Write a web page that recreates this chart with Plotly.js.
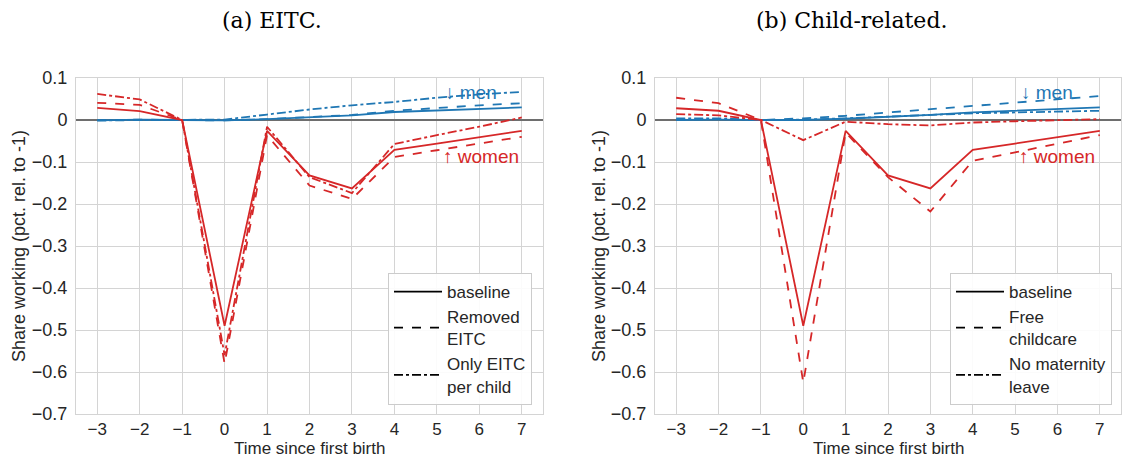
<!DOCTYPE html>
<html>
<head>
<meta charset="utf-8">
<script src="https://cdn.plot.ly/plotly-3.0.1.min.js"></script>
<style>html,body{margin:0;padding:0;background:#fff;}#chart{width:1123px;height:459px;}</style>
</head>
<body>
<div id="chart"></div>
<script>
const years = [-3, -2, -1, 0, 1, 2, 3, 4, 5, 6, 7];

// Panel (a) EITC
const eitcWomenBaseline = [0.029, 0.021, 0, -0.49, -0.026, -0.132, -0.163, -0.071, -0.056, -0.041, -0.026];
const eitcWomenRemoved  = [0.041, 0.036, 0, -0.58, -0.036, -0.156, -0.188, -0.088, -0.072, -0.056, -0.040];
const eitcWomenOnly     = [0.062, 0.049, 0, -0.56, -0.016, -0.136, -0.174, -0.057, -0.036, -0.016, 0.006];
const eitcMenBaseline   = [-0.001, 0.001, 0, -0.001, 0.002, 0.006, 0.011, 0.019, 0.023, 0.027, 0.030];
const eitcMenRemoved    = [-0.001, 0.001, 0, -0.001, 0.002, 0.007, 0.012, 0.022, 0.029, 0.035, 0.040];
const eitcMenOnly       = [-0.001, 0.000, 0, 0.001, 0.013, 0.025, 0.035, 0.043, 0.053, 0.061, 0.067];

// Panel (b) Child-related
const childWomenBaseline  = [0.028, 0.022, 0, -0.49, -0.026, -0.132, -0.163, -0.071, -0.056, -0.041, -0.026];
const childWomenFree      = [0.053, 0.040, 0, -0.625, -0.030, -0.136, -0.218, -0.097, -0.077, -0.057, -0.036];
const childWomenNoLeave   = [0.014, 0.011, 0, -0.048, -0.004, -0.010, -0.013, -0.006, -0.003, -0.001, 0.002];
const childMenBaseline    = [0.000, 0.001, 0, 0.000, 0.003, 0.007, 0.012, 0.018, 0.022, 0.026, 0.030];
const childMenFree        = [0.001, 0.002, 0, 0.004, 0.010, 0.018, 0.026, 0.034, 0.042, 0.050, 0.057];
const childMenNoLeave     = [0.004, 0.004, 0, 0.001, 0.004, 0.008, 0.011, 0.016, 0.018, 0.020, 0.022];

const legendA = ["baseline", "Removed<br>EITC", "Only EITC<br>per child"];
const legendB = ["baseline", "Free<br>childcare", "No maternity<br>leave"];
const xTickLabels = ["−3", "−2", "−1", "0", "1", "2", "3", "4", "5", "6", "7"];

const RED = "#d62728", BLUE = "#1f77b4";
const dashes = ["solid", "dash", "dashdot"];

function line(y, color, dash, xa, ya) {
  return {x: years, y: y, mode: "lines", xaxis: xa, yaxis: ya, showlegend: false,
          line: {color: color, width: 1.8, dash: dash}, hoverinfo: "skip"};
}
function legendTrace(name, dash, xa, ya, lg) {
  return {x: [null], y: [null], mode: "lines", name: name, xaxis: xa, yaxis: ya,
          legend: lg, showlegend: true, line: {color: "#000", width: 1.8, dash: dash}};
}

const traces = [];
traces.push({x: [-3.5, 7.5], y: [0, 0], mode: "lines", xaxis: "x", yaxis: "y", showlegend: false,
             line: {color: "#6e6e6e", width: 1.8}, hoverinfo: "skip"});
traces.push({x: [-3.5, 7.5], y: [0, 0], mode: "lines", xaxis: "x2", yaxis: "y2", showlegend: false,
             line: {color: "#6e6e6e", width: 1.8}, hoverinfo: "skip"});

[eitcMenBaseline, eitcMenRemoved, eitcMenOnly].forEach((s, i) => traces.push(line(s, BLUE, dashes[i], "x", "y")));
[eitcWomenBaseline, eitcWomenRemoved, eitcWomenOnly].forEach((s, i) => traces.push(line(s, RED, dashes[i], "x", "y")));
[childMenBaseline, childMenFree, childMenNoLeave].forEach((s, i) => traces.push(line(s, BLUE, dashes[i], "x2", "y2")));
[childWomenBaseline, childWomenFree, childWomenNoLeave].forEach((s, i) => traces.push(line(s, RED, dashes[i], "x2", "y2")));

legendA.forEach((n, i) => traces.push(legendTrace(n, dashes[i], "x", "y", "legend")));
legendB.forEach((n, i) => traces.push(legendTrace(n, dashes[i], "x2", "y2", "legend2")));

const FONT = "Liberation Sans, Arial, sans-serif";
const GRID = "#d4d4d4";
const TXT = "#262626";
function xax(domain, anchor) {
  return {domain: domain, anchor: anchor, range: [-3.5, 7.5], tickmode: "array", tickvals: years,
          ticktext: xTickLabels, showgrid: true, gridcolor: GRID, gridwidth: 1, zeroline: false,
          showline: true, linecolor: GRID, mirror: true, ticks: "", ticklabelstandoff: 0,
          tickfont: {size: 17, color: TXT, family: FONT}};
}
function yax(anchor) {
  return {domain: [45/459, 381/459], anchor: anchor, range: [-0.7, 0.1], dtick: 0.1, tick0: 0,
          showgrid: true, gridcolor: GRID, gridwidth: 1, zeroline: false,
          showline: true, linecolor: GRID, mirror: true, ticks: "", ticklabelstandoff: 4,
          tickfont: {size: 18, color: TXT, family: FONT}};
}

const legendCommon = {yanchor: "bottom", xanchor: "right", bgcolor: "rgba(255,255,255,0.9)",
  bordercolor: "#cccccc", borderwidth: 1, font: {size: 17, color: TXT, family: FONT},
  tracegroupgap: 2, itemwidth: 48};

function ann(text, x, y, extra) {
  return Object.assign({text: text, xref: "paper", yref: "paper", x: x / 1123, y: 1 - y / 459,
    xanchor: "center", yanchor: "middle", showarrow: false,
    font: {size: 17, color: TXT, family: FONT}}, extra || {});
}
const SERIF = {family: "DejaVu Serif, Liberation Serif, serif", size: 22, color: "#000"};

const layout = {
  width: 1123, height: 459, margin: {l: 0, r: 0, t: 0, b: 0},
  paper_bgcolor: "#fff", plot_bgcolor: "#fff",
  font: {family: FONT, color: TXT},
  xaxis: xax([76/1123, 543/1123], "y"),
  yaxis: yax("x"),
  xaxis2: xax([655/1123, 1121/1123], "y2"),
  yaxis2: yax("x2"),
  legend: Object.assign({x: 532/1123, y: 54/459}, legendCommon),
  legend2: Object.assign({x: 1112/1123, y: 54/459}, legendCommon),
  annotations: [
    ann("(a) EITC.", 272, 21, {font: SERIF}),
    ann("(b) Child-related.", 851, 21, {font: SERIF}),
    ann("Time since first birth", 309, 448),
    ann("Time since first birth", 888, 448),
    ann("Share working (pct. rel. to -1)", 19, 246, {textangle: -90, font: {size: 18, color: TXT, family: FONT}}),
    ann("Share working (pct. rel. to -1)", 599, 246, {textangle: -90, font: {size: 18, color: TXT, family: FONT}}),
    {text: "↓ men", xref: "x", yref: "y", x: 5.8, y: 0.066, showarrow: false, font: {size: 19, color: BLUE, family: FONT}},
    {text: "↑ women", xref: "x", yref: "y", x: 6.03, y: -0.086, showarrow: false, font: {size: 19, color: RED, family: FONT}},
    {text: "↓ men", xref: "x2", yref: "y2", x: 5.75, y: 0.066, showarrow: false, font: {size: 19, color: BLUE, family: FONT}},
    {text: "↑ women", xref: "x2", yref: "y2", x: 6.0, y: -0.086, showarrow: false, font: {size: 19, color: RED, family: FONT}}
  ]
};

Plotly.newPlot("chart", traces, layout, {staticPlot: true, displayModeBar: false});
</script>
</body>
</html>
